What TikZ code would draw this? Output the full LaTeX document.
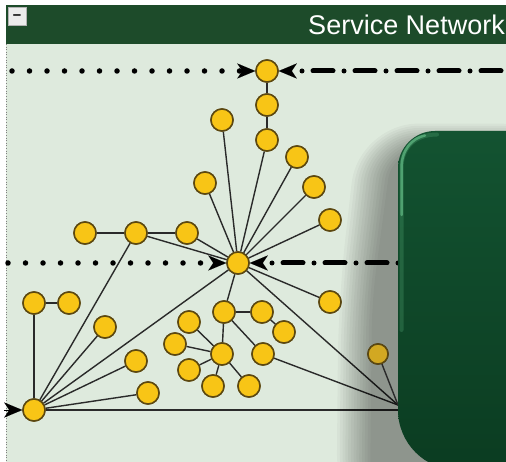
\documentclass[tikz,border=0pt]{standalone}
\usepackage{fontspec}
\setmainfont{Liberation Sans}
\usetikzlibrary{arrows.meta}

\definecolor{barGreen}{HTML}{1D4B2A}
\definecolor{paneBg}{HTML}{DEEADD}
\definecolor{boxTop}{HTML}{135331}
\definecolor{boxBottom}{HTML}{0B3C21}
\definecolor{boxGlow}{HTML}{6CC88F}
\definecolor{nodeFill}{HTML}{F8C516}
\definecolor{nodeShaded}{HTML}{D2A822}
\definecolor{nodeRim}{HTML}{5C4810}
\definecolor{edgeCol}{HTML}{2A2A2A}

\tikzset{
  vertex/.style={circle, draw=nodeRim, fill=nodeFill, line width=1.5pt,
                 minimum size=22pt, inner sep=0pt},
  dimvertex/.style={vertex, minimum size=20pt, fill=nodeShaded},
  link/.style={draw=edgeCol, line width=1.4pt},
  dotrail/.style={draw=black, line width=5.5pt, line cap=round,
                  dash pattern=on 0pt off 17.5pt},
  dashrail/.style={draw=black, line width=5pt, line cap=round,
                   dash pattern=on 0pt off 11pt on 20pt off 11pt},
  tipin/.style={-{Stealth[length=18pt,width=15pt,inset=5pt,line width=0.01pt]}},
}

\begin{document}
\begin{tikzpicture}[x=1pt,y=-1pt]
  \useasboundingbox (0,0) rectangle (506,462);
  \clip (0,0) rectangle (506,462);

  % pane and title bar
  \fill[white] (0,0) rectangle (506,462);
  \fill[paneBg] (6,44) rectangle (506,462);
  \draw[gray, line width=0.6pt, dotted] (6,44) -- (6,462);
  \fill[barGreen] (6,5) rectangle (506,44);
  \node[draw=gray!60, fill=gray!15, line width=1pt, minimum size=18pt, inner sep=0pt,
        font=\bfseries\fontsize{15}{15}\selectfont] (collapse) at (17,17) {–};
  \node[anchor=base east, text=white, inner sep=0pt,
        font=\fontsize{27}{27}\selectfont] (title) at (505,35) {Service Network};

  % vertices
  \node[vertex] (t0) at (267,71) {};
  \node[vertex] (t1) at (267,105) {};
  \node[vertex] (t2) at (267,140) {};
  \node[vertex] (a1) at (222,120) {};
  \node[vertex] (a2) at (297,157) {};
  \node[vertex] (a3) at (205,183) {};
  \node[vertex] (a4) at (314,187) {};
  \node[vertex] (a5) at (330,220) {};
  \node[vertex] (h)  at (238,263) {};
  \node[vertex] (l1) at (85,233) {};
  \node[vertex] (l2) at (136,233) {};
  \node[vertex] (l3) at (187,233) {};
  \node[vertex] (r1) at (330,302) {};
  \node[vertex] (p1) at (34,303) {};
  \node[vertex] (p2) at (69,303) {};
  \node[vertex] (b)  at (34,410) {};
  \node[vertex] (q1) at (105,327) {};
  \node[vertex] (q2) at (136,361) {};
  \node[vertex] (q3) at (148,393) {};
  \node[vertex] (c1) at (224,312) {};
  \node[vertex] (c3) at (262,312) {};
  \node[vertex] (c4) at (284,332) {};
  \node[vertex] (c5) at (263,354) {};
  \node[vertex] (c2) at (222,354) {};
  \node[vertex] (d1) at (189,322) {};
  \node[vertex] (d2) at (175,344) {};
  \node[vertex] (d3) at (189,370) {};
  \node[vertex] (d4) at (213,386) {};
  \node[vertex] (d5) at (249,386) {};
  \node[dimvertex] (s1) at (378,354) {};

  % service block frame (empty node so connectors can reach its edge)
  \path node[minimum width=160pt, minimum height=339pt, anchor=north west,
             inner sep=0pt] (svc) at (398,131) {};
  \coordinate (dockY) at (0,405);
  \coordinate (dock) at (svc.west |- dockY);
  \coordinate (dockB) at (svc.west |- b);

  % connectors
  \draw[link] (t0) -- (t1);
  \draw[link] (t1) -- (t2);
  \foreach \n in {t2,a1,a2,a3,a4,a5,l2,l3,r1,c1,b}
    \draw[link] (h) -- (\n);
  \draw[link] (l1) -- (l2);
  \draw[link] (l2) -- (l3);
  \draw[link] (p1) -- (p2);
  \foreach \n in {p1,l2,q1,q2,q3}
    \draw[link] (b) -- (\n);
  \draw[link] (b) -- (dockB);
  \draw[link] (c1) -- (c3);
  \draw[link] (c3) -- (c4);
  \draw[link] (c1) -- (c2);
  \draw[link] (c1) -- (c5);
  \foreach \n in {d1,d2,d3,d4,d5}
    \draw[link] (c2) -- (\n);
  \draw[link] (h) -- (dock);
  \draw[link] (c5) -- (dock);

  % vertices again, above the connectors
  \foreach \n in {t0,t1,t2,a1,a2,a3,a4,a5,h,l1,l2,l3,r1,p1,p2,b,q1,q2,q3,
                  c1,c2,c3,c4,c5,d1,d2,d3,d4,d5}
    \node[vertex] at (\n) {};

  % rails
  \coordinate (railTopL) at (12,71);
  \coordinate (railTopR) at (512,71);
  \coordinate (railMidL) at (8,263);
  \coordinate (railMidR) at (svc.west |- h);
  \coordinate (railBotL) at (4,410);
  \draw[dotrail, tipin] (railTopL) -- (t0.west);
  \draw[dashrail, tipin] (railTopR) -- (t0.east);
  \draw[dotrail, tipin] (railMidL) -- (h.west);
  \draw[dashrail, tipin] (railMidR) -- (h.east);
  \draw[black, line width=0.4pt, tipin] (railBotL) -- (b.west);

  % soft shadow of the service block, wider towards the bottom
  \foreach \k in {0,...,12}
    \fill[black, opacity=0.032, rounded corners={30+2.5*\k}]
      ({392-2.8*\k},{150-2.2*\k}) -- ({372-2.8*\k},{300}) -- ({370-2.8*\k},{490+2*\k})
      -- (560,{490+2*\k}) -- (560,{150-2.2*\k}) -- cycle;

  % the half-shaded vertex next to the block
  \draw[link] (s1) -- (dock);
  \node[dimvertex] at (s1) {};

  % service block: top-left corner r=37, bottom-left corner r=60
  \shade[top color=boxTop, bottom color=boxBottom]
    (560,131) -- (435,131) .. controls (414.6,131) and (398,147.6) .. (398,168)
    -- (398,410) .. controls (398,443.1) and (424.9,470) .. (458,470)
    -- (560,470) -- cycle;
  \draw[boxGlow, opacity=0.22, line width=4pt, line cap=round]
    (401.5,330) -- (401.5,168) .. controls (401.5,148) and (415,134.5) .. (437,134.5);
  \draw[boxGlow, opacity=0.6, line width=2.5pt, line cap=round]
    (401.5,215) -- (401.5,168) .. controls (401.5,150) and (412,138) .. (425,135.5);
\end{tikzpicture}
\end{document}
